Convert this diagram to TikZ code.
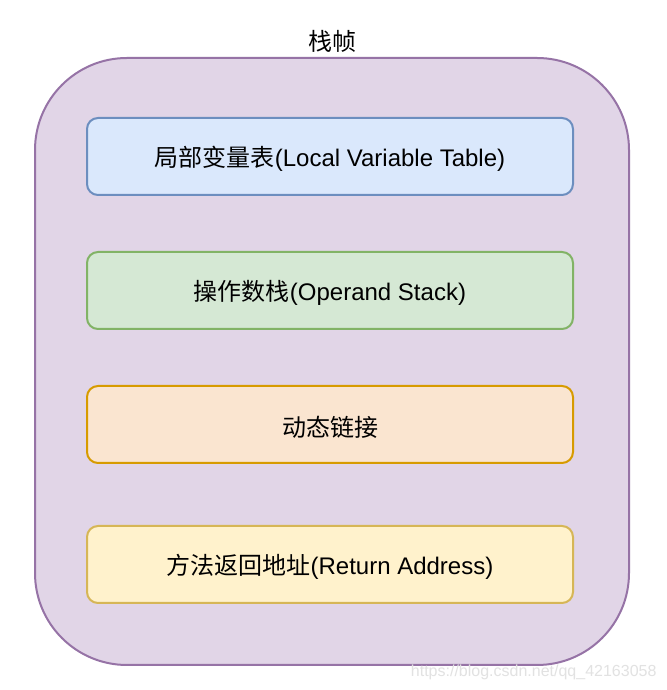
\documentclass[tikz,border=0pt]{standalone}
\usepackage{fontspec}
\setmainfont{Liberation Sans}
\newfontfamily\cjk{Noto Sans CJK SC}
\definecolor{pfill}{HTML}{E1D5E7}\definecolor{pdraw}{HTML}{9673A6}
\definecolor{bfill}{HTML}{DAE8FC}\definecolor{bdraw}{HTML}{6C8EBF}
\definecolor{gfill}{HTML}{D5E8D4}\definecolor{gdraw}{HTML}{82B366}
\definecolor{ofill}{HTML}{FAE5D0}\definecolor{odraw}{HTML}{D79B00}
\definecolor{yfill}{HTML}{FFF2CC}\definecolor{ydraw}{HTML}{D6B656}
\definecolor{wmark}{HTML}{E2E2E2}
\newcommand{\lowtxt}[1]{\raisebox{-2.5pt}[\height][\depth]{#1}}
\begin{document}
\begin{tikzpicture}[x=1pt,y=1pt,
  frame/.style={draw=pdraw,fill=pfill,line width=2pt,rounded corners=92pt,minimum width=594pt,minimum height=607pt,inner sep=0pt},
  part/.style={rounded corners=11pt,line width=2pt,minimum width=486pt,minimum height=77pt,inner sep=0pt,font=\fontsize{24}{28}\selectfont},
  ttl/.style={font=\fontsize{24}{28}\selectfont}]
\useasboundingbox (0,0) rectangle (666,690);
\fill[white] (0,0) rectangle (666,690);
\node[frame] (frame) at (332,328.5) {};
\node[ttl] (title) at (332,649) {\cjk 栈帧};
\node[part,draw=bdraw,fill=bfill] (lvt) at (330,533.5) {\lowtxt{{\cjk 局部变量表}(Local Variable Table)}};
\node[part,draw=gdraw,fill=gfill] (ops) at (330,399.5) {\lowtxt{{\cjk 操作数栈}(Operand Stack)}};
\node[part,draw=odraw,fill=ofill] (dyn) at (330,265.5) {\lowtxt{\cjk 动态链接}};
\node[part,draw=ydraw,fill=yfill] (ret) at (330,125.5) {\lowtxt{{\cjk 方法返回地址}(Return Address)}};
\node[text=wmark,font=\fontsize{16}{19}\selectfont,anchor=east] (wm) at (660,18) {https://blog.csdn.net/qq\_42163058};
\end{tikzpicture}
\end{document}
